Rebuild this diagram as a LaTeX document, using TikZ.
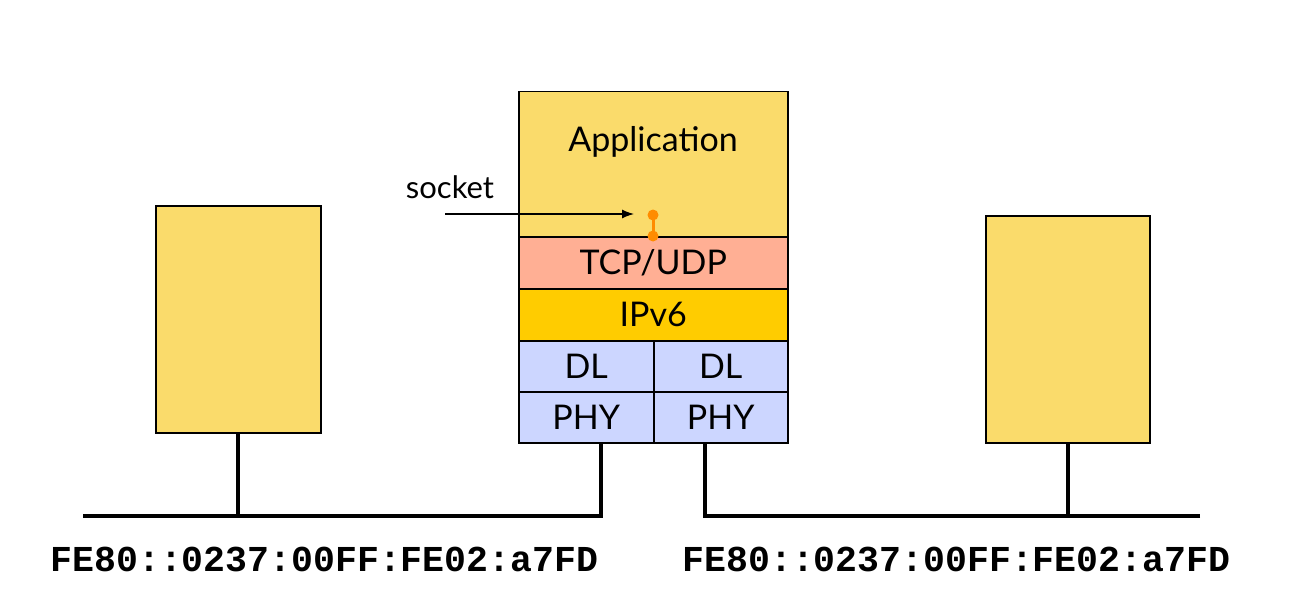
\documentclass[tikz,border=0pt]{standalone}
\usepackage{fontspec}
\setmainfont{Lato}
\newfontfamily\monof{Liberation Mono}
\usetikzlibrary{arrows.meta}
\definecolor{appyel}{HTML}{FADB6B}
\definecolor{tcpcol}{HTML}{FFAF94}
\definecolor{ipcol}{HTML}{FFCC00}
\definecolor{dlcol}{HTML}{CCD6FF}
\definecolor{sockcol}{HTML}{FF8C00}
\begin{document}
\begin{tikzpicture}[x=1pt,y=-1pt,
  layer/.style={draw=black,line width=1.5pt,inner sep=0pt,anchor=north west},
  lbl/.style={font=\fontsize{34}{36}\selectfont},
  net/.style={line width=4pt},
  addr/.style={font=\monof\bfseries\fontsize{36.5}{38}\selectfont}]
\useasboundingbox (0,0) rectangle (1291,615);
% hosts
\node[layer,fill=appyel,minimum width=165pt,minimum height=227pt] (hostL) at (155,205) {};
\node[layer,fill=appyel,minimum width=164pt,minimum height=227pt] (hostR) at (985,215) {};
% stack
\node[layer,fill=appyel,minimum width=269pt,minimum height=145pt] (app) at (518,91) {};
\node[lbl] (applbl) at (653,142) {Application};
\node[layer,fill=tcpcol,minimum width=269pt,minimum height=52pt,lbl] (tcp) at (518,236) {TCP/UDP};
\node[layer,fill=ipcol,minimum width=269pt,minimum height=52pt,lbl] (ip) at (518,288) {IPv6};
\node[layer,fill=dlcol,minimum width=135pt,minimum height=51pt,lbl] (dlL) at (518,340) {DL};
\node[layer,fill=dlcol,minimum width=134pt,minimum height=51pt,lbl] (dlR) at (653,340) {DL};
\node[layer,fill=dlcol,minimum width=135pt,minimum height=51pt,lbl] (phyL) at (518,391) {PHY};
\node[layer,fill=dlcol,minimum width=134pt,minimum height=51pt,lbl] (phyR) at (653,391) {PHY};
% networks
\coordinate (nLa) at (83,516);
\coordinate (nLb) at (601,516);
\coordinate (nRa) at (705,516);
\coordinate (nRb) at (1200,516);
\draw[net] (hostL.south) -- (hostL.south |- nLa);
\draw[net] (nLa) -- (nLb) -- (nLb |- phyL.south);
\draw[net] (nRb) -- (nRa) -- (nRa |- phyR.south);
\draw[net] (hostR.south) -- (hostR.south |- nRa);
\node[addr,anchor=base west] (addrL) at (47,571) {FE80::0237:00FF:FE02:a7FD};
\node[addr,anchor=base west] (addrR) at (679,571) {FE80::0237:00FF:FE02:a7FD};
% socket
\coordinate (s1) at (653,215);
\coordinate (s2) at (653,236);
\draw[sockcol,line width=3pt] (s1) -- (s2);
\fill[sockcol] (s1) circle (5.5pt) (s2) circle (5.5pt);
\node[font=\fontsize{31}{33}\selectfont,anchor=base] (sock) at (450,198) {socket};
\coordinate (sa) at (445,214);
\coordinate (sb) at (634,214);
\draw[line width=1.3pt,-{Latex[length=12pt,width=9pt]}] (sa) -- (sb);
\end{tikzpicture}
\end{document}
